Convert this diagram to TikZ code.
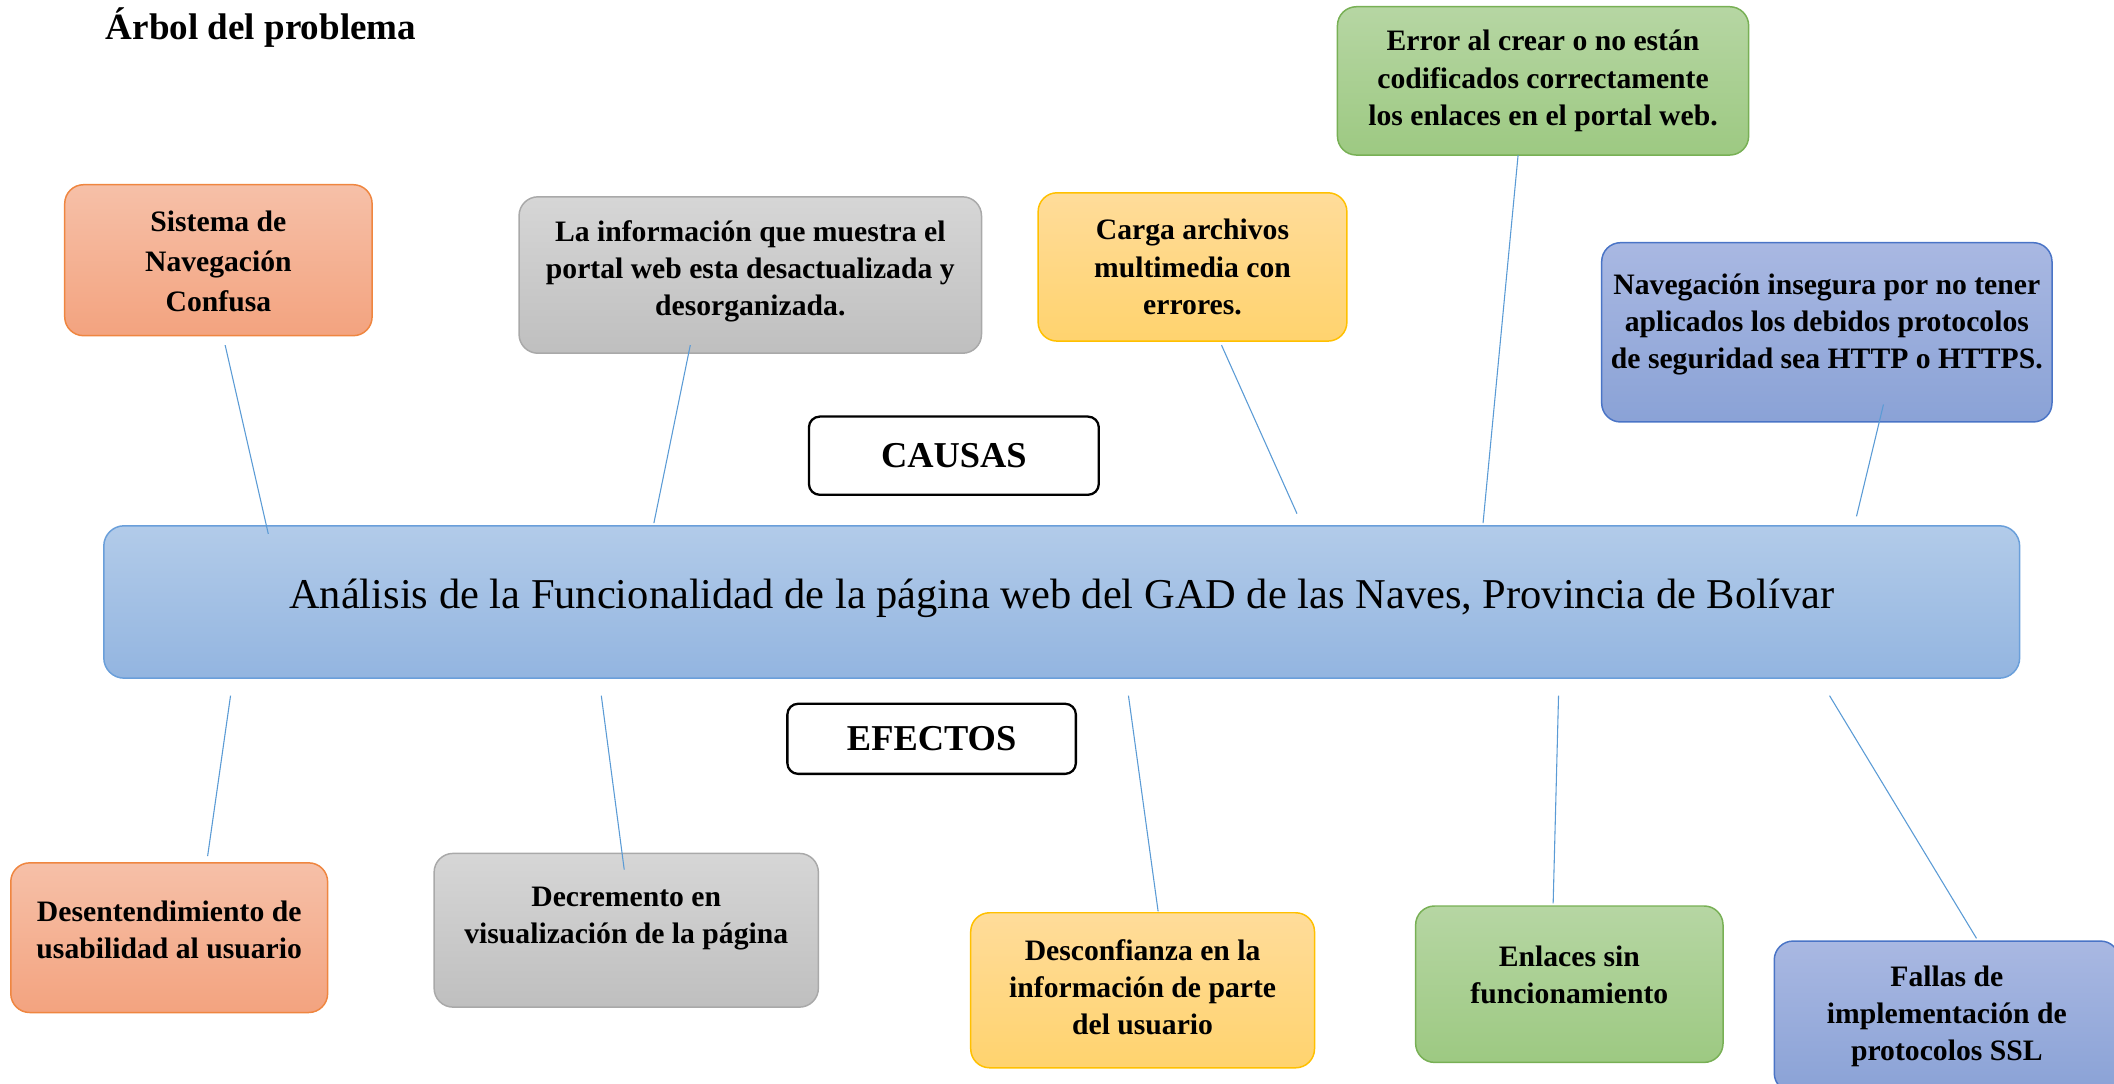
\documentclass[tikz,border=0pt]{standalone}
\usepackage{fontspec}
\setmainfont{Liberation Serif}
\definecolor{orangeT}{HTML}{F6C0A8}
\definecolor{orangeD}{HTML}{F3A37F}
\definecolor{orangeB}{HTML}{EF8640}
\definecolor{grayT}{HTML}{D6D6D6}
\definecolor{grayD}{HTML}{BFBFBF}
\definecolor{grayB}{HTML}{A9A9A9}
\definecolor{yellowT}{HTML}{FFDC9A}
\definecolor{yellowD}{HTML}{FFD36E}
\definecolor{yellowB}{HTML}{FFC000}
\definecolor{greenT}{HTML}{B6D6A3}
\definecolor{greenD}{HTML}{9DC982}
\definecolor{greenB}{HTML}{78B055}
\definecolor{blueT}{HTML}{A9B8E2}
\definecolor{blueD}{HTML}{8AA2D6}
\definecolor{blueB}{HTML}{4A74C6}
\definecolor{centerT}{HTML}{B2CBE9}
\definecolor{centerD}{HTML}{93B5E0}
\definecolor{centerB}{HTML}{6A9FDA}
\definecolor{linkC}{HTML}{5B9BD5}
\newcommand{\boxfont}{\bfseries\fontsize{22}{27.5}\selectfont}
\newcommand{\widefont}{\bfseries\fontsize{22}{29.5}\selectfont}
\newcommand{\labfont}{\bfseries\fontsize{27}{32}\selectfont}
\begin{document}
\begin{tikzpicture}[x=1pt,y=1pt,
  boxbase/.style={rounded corners=14pt, line width=1.1pt, inner sep=0pt},
  orangebox/.style={boxbase, draw=orangeB, top color=orangeT, bottom color=orangeD},
  graybox/.style={boxbase, draw=grayB, top color=grayT, bottom color=grayD},
  yellowbox/.style={boxbase, draw=yellowB, top color=yellowT, bottom color=yellowD},
  greenbox/.style={boxbase, draw=greenB, top color=greenT, bottom color=greenD},
  bluebox/.style={boxbase, draw=blueB, top color=blueT, bottom color=blueD},
  boxtext/.style={align=center, inner sep=0pt, font=\boxfont, text=black},
  centerbox/.style={rounded corners=15pt, line width=1.1pt, draw=centerB, top color=centerT, bottom color=centerD, inner sep=0pt},
  centertext/.style={inner sep=0pt, font=\fontsize{31.5}{36}\selectfont, text=black},
  labelbox/.style={draw=black, line width=1.7pt, rounded corners=8pt, fill=white, inner sep=0pt, font=\labfont},
  link/.style={draw=linkC, line width=0.8pt}
]
\useasboundingbox (0,0) rectangle (1568,804);

\node[anchor=base west, font=\bfseries\fontsize{27.5}{32}\selectfont] (title) at (75,775) {Árbol del problema};

% causes
\node[orangebox, minimum width=228pt, minimum height=112pt] (c1) at (162,611) {};
\node[boxtext, font=\widefont, yshift=-1pt] (c1t) at (c1.center) {Sistema de\\Navegación\\Confusa};
\node[graybox, minimum width=343pt, minimum height=116pt] (c2) at (556.5,600) {};
\node[boxtext, yshift=3pt] (c2t) at (c2.center) {La información que muestra el\\portal web esta desactualizada y\\desorganizada.};
\node[yellowbox, minimum width=229pt, minimum height=110pt] (c3) at (884.5,606) {};
\node[boxtext] (c3t) at (c3.center) {Carga archivos\\multimedia con\\errores.};
\node[greenbox, minimum width=305pt, minimum height=110pt] (c4) at (1144.5,744) {};
\node[boxtext] (c4t) at (c4.center) {Error al crear o no están\\codificados correctamente\\los enlaces en el portal web.};
\node[bluebox, minimum width=334pt, minimum height=133pt] (c5) at (1355,557.5) {};
\node[boxtext, yshift=6pt] (c5t) at (c5.center) {Navegación insegura por no tener\\aplicados los debidos protocolos\\de seguridad sea HTTP o HTTPS.};

\node[labelbox, minimum width=215pt, minimum height=58pt] (causas) at (707.5,466) {CAUSAS};

\node[centerbox, minimum width=1421pt, minimum height=113pt] (center) at (787.5,357.5) {};
\node[centertext, yshift=3pt] (centert) at (center.center) {Análisis de la Funcionalidad de la página web del GAD de las Naves, Provincia de Bolívar};

\node[labelbox, minimum width=214pt, minimum height=52pt] (efectos) at (691,256) {EFECTOS};

% effects
\node[orangebox, minimum width=235pt, minimum height=111pt] (e1) at (125.5,108.5) {};
\node[boxtext, yshift=6pt] (e1t) at (e1.center) {Desentendimiento de\\usabilidad al usuario};
\node[graybox, minimum width=285pt, minimum height=114pt] (e2) at (464.5,114) {};
\node[boxtext, yshift=9pt] (e2t) at (e2.center) {Decremento en\\visualización de la página};
\node[yellowbox, minimum width=255pt, minimum height=115pt] (e3) at (847.5,69.5) {};
\node[boxtext, yshift=2pt] (e3t) at (e3.center) {Desconfianza en la\\información de parte\\del usuario};
\node[greenbox, minimum width=228pt, minimum height=116pt] (e4) at (1164,74) {};
\node[boxtext, yshift=7pt] (e4t) at (e4.center) {Enlaces sin\\funcionamiento};
\node[bluebox, minimum width=256pt, minimum height=112pt] (e5) at (1444,50) {};
\node[boxtext] (e5t) at (e5.center) {Fallas de\\implementación de\\protocolos SSL};

% connector end points
\coordinate (l1a) at (167,548);  \coordinate (l1b) at (199,408);
\coordinate (l2a) at (512,548);  \coordinate (l2b) at (485,416);
\coordinate (l3a) at (906,548);  \coordinate (l3b) at (962,423);
\coordinate (l4a) at (1126,689); \coordinate (l4b) at (1100,416);
\coordinate (l5a) at (1397,504); \coordinate (l5b) at (1377,421);
\coordinate (m1a) at (171,288);  \coordinate (m1b) at (154,169);
\coordinate (m2a) at (446,288);  \coordinate (m2b) at (463,159);
\coordinate (m3a) at (837,288);  \coordinate (m3b) at (859,128);
\coordinate (m4a) at (1156,288); \coordinate (m4b) at (1152,134);
\coordinate (m5a) at (1357,288); \coordinate (m5b) at (1466,108);

\draw[link] (l1a) -- (l1b);
\draw[link] (l2a) -- (l2b);
\draw[link] (l3a) -- (l3b);
\draw[link] (l4a) -- (l4b);
\draw[link] (l5a) -- (l5b);
\draw[link] (m1a) -- (m1b);
\draw[link] (m2a) -- (m2b);
\draw[link] (m3a) -- (m3b);
\draw[link] (m4a) -- (m4b);
\draw[link] (m5a) -- (m5b);
\end{tikzpicture}
\end{document}
